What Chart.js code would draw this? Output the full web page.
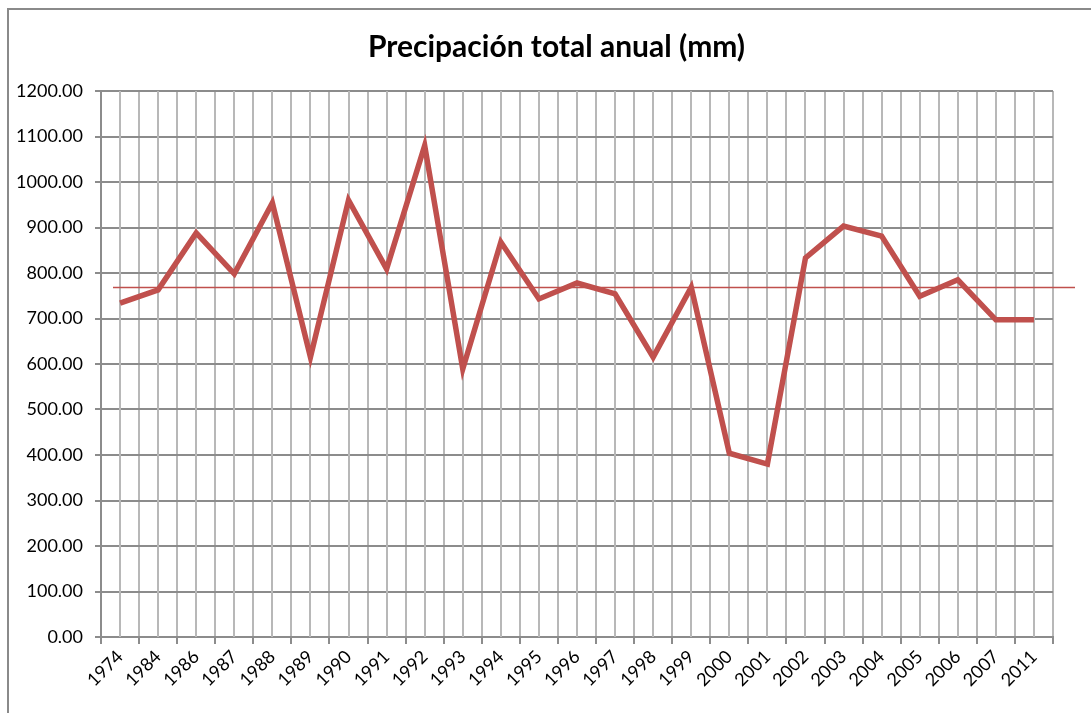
<!DOCTYPE html>
<html>
<head>
<meta charset="utf-8">
<script src="https://cdn.jsdelivr.net/npm/chart.js@4.4.0/dist/chart.umd.min.js"></script>
<style>
  html, body { margin: 0; padding: 0; background: #fff; }
  #wrap { position: relative; width: 1091px; height: 713px; overflow: hidden; }
  #frame { position: absolute; left: 7px; top: 8px; width: 1200px; height: 800px;
           border-left: 2px solid #8a8a8a; border-top: 2px solid #8a8a8a; }
  #chart { position: absolute; left: 0; top: 0; }
</style>
</head>
<body>
<div id="wrap">
  <div id="frame"></div>
  <canvas id="chart" width="1091" height="713"></canvas>
</div>
<script>
const years = ['1974', '1984', '1986', '1987', '1988', '1989', '1990', '1991', '1992', '1993',
  '1994', '1995', '1996', '1997', '1998', '1999', '2000', '2001', '2002', '2003',
  '2004', '2005', '2006', '2007', '2011'];
const precipitation = [734, 763, 888, 798, 954, 615, 960, 809, 1080, 589,
  868, 743, 778, 754, 615, 769, 404, 380, 833, 903,
  881, 749, 785, 697, 697];
const meanValue = 768;

const fontFamily = 'Lato, "Open Sans", sans-serif';

// lighter lines through the middle of every category
const centerLines = {
  id: 'centerLines',
  beforeDatasetsDraw(chart) {
    const { ctx, chartArea, scales } = chart;
    ctx.save();
    ctx.strokeStyle = '#b8b8b8';
    ctx.lineWidth = 2;
    years.forEach((y, i) => {
      const x = Math.round(scales.x.getPixelForValue(i));
      ctx.beginPath();
      ctx.moveTo(x, chartArea.top);
      ctx.lineTo(x, chartArea.bottom);
      ctx.stroke();
    });
    ctx.restore();
  }
};

// average line, runs a bit past the plot on the right like the original
const meanLine = {
  id: 'meanLine',
  afterDatasetsDraw(chart) {
    const { ctx, chartArea, scales } = chart;
    const y = scales.y.getPixelForValue(meanValue);
    ctx.save();
    ctx.strokeStyle = '#c0504d';
    ctx.lineWidth = 1.5;
    ctx.beginPath();
    ctx.moveTo(chartArea.left + 12, y);
    ctx.lineTo(chartArea.right + 22, y);
    ctx.stroke();
    ctx.restore();
  }
};

new Chart(document.getElementById('chart'), {
  type: 'line',
  data: {
    labels: years,
    datasets: [{
      label: 'Precipitación',
      data: precipitation,
      borderColor: '#c0504d',
      borderWidth: 5.5,
      pointRadius: 0,
      tension: 0,
      borderJoinStyle: 'miter'
    }]
  },
  plugins: [centerLines, meanLine],
  options: {
    responsive: false,
    animation: false,
    // negative right padding just pushes the centred title a little to the right
    layout: { padding: { left: 10, right: -12, top: 0, bottom: 0 } },
    plugins: {
      legend: { display: false },
      tooltip: { enabled: false },
      title: {
        display: true,
        text: 'Precipación total anual (mm)',
        color: '#000',
        font: { family: fontFamily, size: 30, weight: 'bold' },
        padding: { top: 29, bottom: 26 }
      }
    },
    scales: {
      x: {
        offset: true,
        grid: { offset: true, color: '#b8b8b8', lineWidth: 2, tickColor: '#8c8c8c', tickLength: 7 },
        border: { color: '#8c8c8c', width: 2 },
        ticks: {
          color: '#000',
          font: { family: fontFamily, size: 18 },
          maxRotation: 45,
          minRotation: 45,
          autoSkip: false,
          padding: 2
        },
        afterFit(scale) { scale.height = 76; }
      },
      y: {
        min: 0,
        max: 1200,
        ticks: {
          stepSize: 50,
          color: '#000',
          font: { family: fontFamily, size: 18 },
          padding: 12,
          callback: v => (v % 100 === 0 ? v.toFixed(2) : '')
        },
        grid: {
          color: c => (c.tick && c.tick.value % 100 === 0 ? '#8c8c8c' : 'rgba(0,0,0,0)'),
          tickColor: '#8c8c8c',
          lineWidth: 2,
          tickLength: 6
        },
        border: { color: '#8c8c8c', width: 2 },
        afterFit(scale) { scale.width = 91; }
      },
      // empty spacer on the right so the plot stops where the original does
      spacer: {
        position: 'right',
        grid: { display: false },
        border: { display: false },
        ticks: { display: false },
        afterFit(scale) { scale.width = 50; }
      }
    }
  }
});
</script>
</body>
</html>
